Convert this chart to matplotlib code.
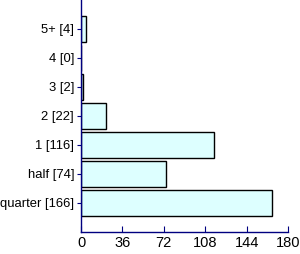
import matplotlib
matplotlib.use('Agg')
import matplotlib.pyplot as plt

plt.rcParams['font.family'] = ['Liberation Sans', 'DejaVu Sans']

labels = ['quarter [166]', 'half [74]', '1 [116]', '2 [22]', '3 [2]', '4 [0]', '5+ [4]']
values = [166, 74, 116, 22, 2, 0, 4]
xticks = [0, 36, 72, 108, 144, 180]

fig = plt.figure(figsize=(3.0, 2.54), dpi=100)
ax = fig.add_axes([0.27, 0.087, 0.69, 0.913])

pos = list(range(len(values)))
ax.barh(pos, values, height=0.87, color='#DDFFFF', edgecolor='black', linewidth=1)

ax.set_ylim(-1, 7)
ax.set_xlim(0, 180)
ax.set_xticks(xticks)
ax.set_yticks(pos)
ax.set_yticklabels(labels)

navy = '#000080'
for s in ['top', 'right']:
    ax.spines[s].set_visible(False)
for s in ['left', 'bottom']:
    ax.spines[s].set_color(navy)
    ax.spines[s].set_linewidth(1)
ax.tick_params(axis='y', direction='out', length=3, color=navy, labelsize=9.4, pad=2)
ax.tick_params(axis='x', direction='in', length=4, color=navy, labelsize=10.5, pad=3)

fig.savefig('out.png', dpi=100)
